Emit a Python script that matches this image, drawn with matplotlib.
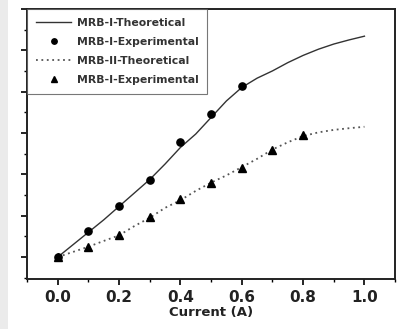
import matplotlib
matplotlib.use("Agg")
import matplotlib.pyplot as plt
from matplotlib.patches import Rectangle
from matplotlib.ticker import MultipleLocator

# Data (y in arbitrary units; y labels cropped in reference)
x_theo = [0.0, 0.05, 0.1, 0.15, 0.2, 0.25, 0.3, 0.35, 0.4, 0.45, 0.5, 0.55, 0.6,
          0.65, 0.7, 0.75, 0.8, 0.85, 0.9, 0.95, 1.0]
mrb1_theo = [0.0, 0.6, 1.2, 1.8, 2.45, 3.1, 3.75, 4.5, 5.3, 5.95, 6.75, 7.55, 8.2,
             8.65, 9.0, 9.4, 9.75, 10.05, 10.3, 10.5, 10.68]
x_exp1 = [0.0, 0.1, 0.2, 0.3, 0.4, 0.5, 0.6]
mrb1_exp = [0.0, 1.27, 2.46, 3.75, 5.54, 6.94, 8.26]
mrb2_theo = [0.0, 0.25, 0.5, 0.78, 1.05, 1.5, 1.9, 2.38, 2.75, 3.2, 3.6, 3.95, 4.35,
             4.75, 5.2, 5.55, 5.85, 6.03, 6.15, 6.23, 6.3]
x_exp2 = [0.0, 0.1, 0.2, 0.3, 0.4, 0.5, 0.6, 0.7, 0.8]
mrb2_exp = [0.0, 0.5, 1.06, 1.95, 2.8, 3.6, 4.31, 5.2, 5.9]
labels = ["MRB-I-Theoretical", "MRB-I-Experimental", "MRB-II-Theoretical", "MRB-I-Experimental"]
xtick_vals = [0.0, 0.2, 0.4, 0.6, 0.8, 1.0]
xtick_labels = ["0.0", "0.2", "0.4", "0.6", "0.8", "1.0"]

fig = plt.figure(figsize=(4.04, 3.29), dpi=100)
fig.patches.append(Rectangle((0, 0), 8/404, 1, transform=fig.transFigure,
                             facecolor="#ebebeb", edgecolor="none", zorder=0))
ax = fig.add_axes([0.067, 0.152, 0.911, 0.821])

ax.plot(x_theo, mrb1_theo, color="#333333", lw=1.0, label=labels[0])
ax.plot(x_exp1, mrb1_exp, "o", color="black", ms=5.2, ls="none", label=labels[1])
ax.plot(x_theo, mrb2_theo, color="#555555", lw=1.3, ls=(0, (1, 2)), label=labels[2])
ax.plot(x_exp2, mrb2_exp, "^", color="black", ms=5.2, ls="none", label=labels[3])

ax.set_xlim(-0.1, 1.1)
ax.set_ylim(-1.06, 12.0)
ax.xaxis.set_minor_locator(MultipleLocator(0.1))
ax.yaxis.set_major_locator(MultipleLocator(2))
ax.yaxis.set_minor_locator(MultipleLocator(1))
ax.tick_params(axis="both", which="major", direction="out", length=4, width=1.2, top=False, right=False)
ax.tick_params(axis="both", which="minor", direction="out", length=2.5, width=1.0, top=False, right=False)
ax.tick_params(axis="y", which="both", labelleft=False)
ax.set_xticks(xtick_vals)
ax.set_xticklabels(xtick_labels, fontsize=11, fontweight="bold", color="#222222")
ax.tick_params(axis="x", pad=4)
for s in ax.spines.values():
    s.set_linewidth(1.4)
    s.set_color("#222222")
ax.set_xlabel("Current (A)", fontsize=9.5, fontweight="bold", color="#222222", labelpad=1)

leg = ax.legend(loc="upper left", bbox_to_anchor=(0.0, 1.0),
                prop={"weight": "bold", "size": 7.8}, frameon=True, fancybox=False,
                edgecolor="#555555", borderaxespad=0, handlelength=3.3,
                labelspacing=0.85, borderpad=0.8, handletextpad=0.5, markerscale=0.75)
leg.get_frame().set_linewidth(0.8)
for t in leg.get_texts():
    t.set_color("#333333")

fig.savefig("out.png", dpi=100)
